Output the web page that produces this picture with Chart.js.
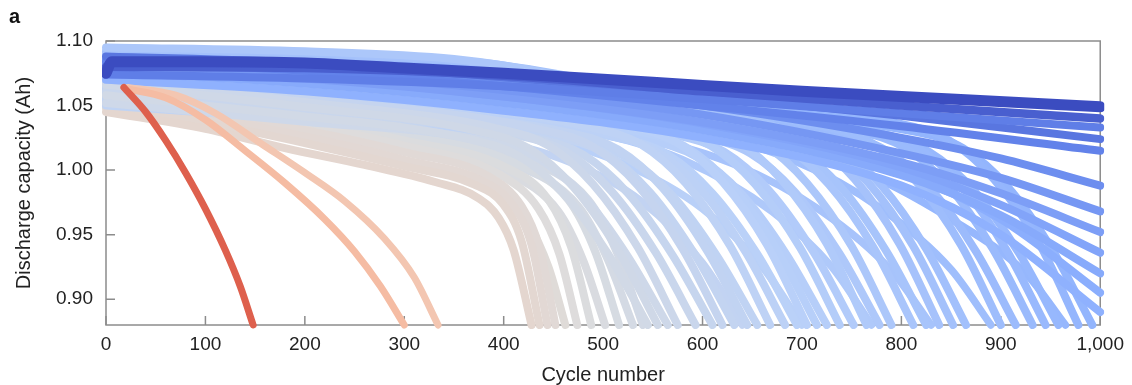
<!DOCTYPE html>
<html>
<head>
<meta charset="utf-8">
<script src="https://cdn.jsdelivr.net/npm/chart.js@4.4.1/dist/chart.umd.min.js"></script>
<style>
  html, body { margin: 0; padding: 0; background: #fff; }
</style>
</head>
<body>
<canvas id="capacity" width="1132" height="385"></canvas>
<script>
// tick values
const xTicks = [0, 100, 200, 300, 400, 500, 600, 700, 800, 900, 1000];
const yTicks = [0.90, 0.95, 1.00, 1.05, 1.10];

// cells that die early: [cycle, capacity (Ah)]
const shortLife = [148, 300, 335];
const shortCurves = [
  [[18,1.064],[40,1.045],[60,1.023],[80,0.998],[100,0.970],[120,0.938],[135,0.910],[148,0.880]],
  [[20,1.063],[60,1.056],[100,1.039],[140,1.015],[180,0.990],[220,0.962],[250,0.937],[276,0.910],[300,0.880]],
  [[22,1.064],[70,1.058],[110,1.044],[157,1.020],[200,0.998],[240,0.976],[280,0.947],[310,0.917],[334,0.880]]
];

// grey / beige group, knee around 400-500 cycles
const midLife = [428, 436, 444, 452, 462, 474, 488, 502, 516, 530, 540];
const midCurves = [
  [[0,1.045],[100,1.032],[180,1.017],[260,1.004],[330,0.991],[375,0.978],[395,0.963],[410,0.938],[428,0.880]],
  [[0,1.050],[100,1.037],[200,1.021],[300,1.003],[370,0.989],[400,0.973],[418,0.945],[436,0.880]],
  [[0,1.053],[100,1.041],[200,1.026],[300,1.008],[380,0.991],[410,0.972],[428,0.942],[444,0.880]],
  [[0,1.056],[100,1.044],[200,1.031],[300,1.014],[385,0.995],[418,0.972],[436,0.940],[452,0.880]],
  [[0,1.048],[100,1.037],[200,1.023],[300,1.006],[390,0.984],[425,0.958],[445,0.925],[462,0.880]],
  [[0,1.057],[100,1.047],[200,1.035],[300,1.019],[395,0.997],[435,0.970],[456,0.935],[474,0.880]],
  [[0,1.059],[100,1.049],[200,1.038],[300,1.023],[400,1.003],[445,0.977],[468,0.940],[488,0.880]],
  [[0,1.054],[100,1.045],[200,1.033],[300,1.019],[400,0.999],[455,0.968],[480,0.930],[502,0.880]],
  [[0,1.061],[100,1.051],[200,1.041],[300,1.027],[400,1.009],[465,0.977],[492,0.937],[516,0.880]],
  [[0,1.058],[100,1.049],[200,1.038],[300,1.025],[400,1.007],[475,0.972],[504,0.932],[530,0.880]],
  [[0,1.063],[100,1.054],[200,1.044],[300,1.031],[400,1.013],[485,0.977],[514,0.936],[540,0.880]]
];

// blue fan, end of life between 545 and 1,000 cycles
const fanLife = [545, 555, 565, 575, 593, 610, 620, 632, 645, 655, 668, 683, 695, 705, 715, 725, 738,
                 752, 765, 778, 790, 812, 825, 838, 852, 865, 900, 915, 932, 945, 958, 978, 992];
const fanCurves = [
  [[0,1.058],[182,1.043],[365,1.024],[415,1.011],[460,0.982],[505,0.935],[545,0.880]],
  [[0,1.066],[187,1.050],[375,1.030],[425,1.017],[470,0.987],[515,0.938],[555,0.880]],
  [[0,1.052],[192,1.038],[385,1.022],[435,1.009],[480,0.980],[525,0.933],[565,0.880]],
  [[0,1.070],[197,1.053],[395,1.032],[445,1.019],[490,0.989],[535,0.940],[575,0.880]],
  [[0,1.061],[206,1.046],[413,1.027],[463,1.014],[508,0.984],[553,0.936],[593,0.880]],
  [[0,1.060],[215,1.044],[430,1.025],[480,1.012],[525,0.982],[570,0.934],[610,0.880]],
  [[0,1.073],[220,1.054],[440,1.031],[490,1.018],[535,0.988],[580,0.939],[620,0.880]],
  [[0,1.055],[226,1.042],[452,1.026],[502,1.013],[547,0.983],[592,0.935],[632,0.880]],
  [[0,1.064],[232,1.048],[465,1.029],[515,1.016],[560,0.986],[605,0.937],[645,0.880]],
  [[0,1.050],[237,1.037],[475,1.022],[525,1.009],[570,0.980],[615,0.933],[655,0.880]],
  [[0,1.076],[244,1.057],[488,1.033],[538,1.020],[583,0.990],[628,0.941],[668,0.880]],
  [[0,1.067],[251,1.049],[503,1.028],[553,1.015],[598,0.985],[643,0.937],[683,0.880]],
  [[0,1.058],[257,1.043],[515,1.025],[565,1.012],[610,0.982],[655,0.935],[695,0.880]],
  [[0,1.079],[262,1.059],[525,1.034],[575,1.021],[620,0.991],[665,0.942],[705,0.880]],
  [[0,1.069],[267,1.051],[535,1.030],[585,1.017],[630,0.987],[675,0.938],[715,0.880]],
  [[0,1.054],[272,1.040],[545,1.023],[595,1.010],[640,0.981],[685,0.934],[725,0.880]],
  [[0,1.072],[279,1.054],[558,1.032],[608,1.019],[653,0.989],[698,0.940],[738,0.880]],
  [[0,1.063],[286,1.047],[572,1.027],[622,1.014],[667,0.984],[712,0.936],[752,0.880]],
  [[0,1.080],[292,1.060],[585,1.035],[635,1.022],[680,0.992],[725,0.943],[765,0.880]],
  [[0,1.060],[299,1.045],[598,1.026],[648,1.013],[693,0.983],[738,0.935],[778,0.880]],
  [[0,1.095],[200,1.092],[350,1.086],[450,1.074],[530,1.058],[610,1.036],[660,1.021],[705,0.990],[750,0.941],[790,0.880]],
  [[0,1.074],[316,1.055],[632,1.032],[682,1.019],[727,0.989],[772,0.940],[812,0.880]],
  [[0,1.066],[322,1.049],[645,1.029],[695,1.016],[740,0.986],[785,0.937],[825,0.880]],
  [[0,1.082],[329,1.061],[658,1.036],[708,1.023],[753,0.993],[798,0.943],[838,0.880]],
  [[0,1.092],[220,1.089],[380,1.083],[500,1.068],[600,1.052],[672,1.034],[722,1.020],[767,0.990],[812,0.941],[852,0.880]],
  [[0,1.070],[342,1.052],[685,1.031],[735,1.018],[780,0.988],[825,0.939],[865,0.880]],
  [[0,1.078],[360,1.058],[720,1.034],[770,1.021],[815,0.991],[860,0.942],[900,0.880]],
  [[0,1.065],[367,1.048],[735,1.028],[785,1.015],[830,0.985],[875,0.937],[915,0.880]],
  [[0,1.090],[230,1.087],[400,1.079],[540,1.063],[660,1.047],[752,1.031],[802,1.018],[847,0.988],[892,0.939],[932,0.880]],
  [[0,1.071],[382,1.053],[765,1.031],[815,1.018],[860,0.988],[905,0.939],[945,0.880]],
  [[0,1.062],[389,1.046],[778,1.027],[828,1.014],[873,0.984],[918,0.936],[958,0.880]],
  [[0,1.084],[399,1.062],[798,1.036],[848,1.023],[893,0.993],[938,0.944],[978,0.880]],
  [[0,1.068],[406,1.051],[812,1.030],[862,1.017],[907,0.987],[952,0.938],[992,0.880]]
];

// slower-fading cells that cross the fan at a shallower angle
const slowLife = [640, 700, 770, 830, 890, 965];
const slowCurves = [
  [[0,1.057],[220,1.043],[380,1.025],[470,1.005],[540,0.975],[600,0.928],[640,0.880]],
  [[0,1.064],[250,1.048],[420,1.028],[520,1.005],[600,0.970],[660,0.925],[700,0.880]],
  [[0,1.071],[280,1.054],[470,1.033],[580,1.008],[670,0.968],[730,0.925],[770,0.880]],
  [[0,1.066],[300,1.050],[510,1.030],[630,1.005],[720,0.968],[790,0.922],[830,0.880]],
  [[0,1.075],[330,1.058],[560,1.036],[690,1.008],[780,0.970],[850,0.923],[890,0.880]],
  [[0,1.069],[360,1.052],[600,1.031],[750,1.002],[850,0.962],[925,0.920],[965,0.880]]
];

// cells still alive at 1,000 cycles
const longLife = [2000, 1600, 1700, 1550, 1400, 1300, 1220, 1160, 1110, 1070, 1035];
const longCurves = [
  [[0,1.080],[200,1.079],[400,1.073],[600,1.061],[800,1.050],[1000,1.040]],
  [[0,1.074],[200,1.071],[400,1.065],[600,1.055],[800,1.044],[1000,1.033]],
  [[0,1.088],[200,1.083],[400,1.072],[600,1.058],[800,1.042],[1000,1.024]],
  [[0,1.084],[200,1.077],[400,1.065],[600,1.050],[800,1.034],[1000,1.015]],
  [[0,1.086],[200,1.079],[400,1.067],[600,1.050],[800,1.025],[900,1.009],[1000,0.988]],
  [[0,1.083],[200,1.075],[400,1.062],[600,1.043],[800,1.013],[900,0.994],[1000,0.968]],
  [[0,1.079],[200,1.071],[400,1.057],[600,1.037],[800,1.006],[900,0.982],[1000,0.952]],
  [[0,1.081],[200,1.072],[400,1.057],[600,1.036],[800,1.002],[900,0.973],[1000,0.936]],
  [[0,1.076],[200,1.067],[400,1.052],[600,1.031],[800,0.996],[900,0.965],[1000,0.920]],
  [[0,1.085],[200,1.075],[400,1.059],[600,1.036],[800,0.998],[900,0.962],[1000,0.905]],
  [[0,1.070],[200,1.061],[400,1.046],[600,1.025],[800,0.988],[900,0.950],[1000,0.890]]
];

// longest-lived cell (dark blue band on top)
const topLife = 2300;
const topCurve = [[0,1.075],[6,1.084],[100,1.084],[200,1.083],[300,1.079],[400,1.075],[550,1.068],[700,1.061],[850,1.055],[1000,1.049]];

// coolwarm colour scale, blue = long life, red = short life
const coolwarm = [[59,76,192],[98,130,234],[141,176,254],[184,208,249],[221,221,221],
                  [245,196,173],[244,154,123],[222,96,77],[180,4,38]];
function lifeColour(life) {
  let t = (Math.log(2300) - Math.log(life)) / (Math.log(2300) - Math.log(100));
  t = Math.min(1, Math.max(0, t));
  const f = t * 8, i = Math.min(7, Math.floor(f)), w = f - i;
  const c = coolwarm[i].map((v, k) => Math.round(v + (coolwarm[i + 1][k] - v) * w));
  return `rgb(${c.join(',')})`;
}

function cell(points, life, width, order) {
  return {
    data: points.map(p => ({x: p[0], y: p[1]})),
    borderColor: lifeColour(life),
    borderWidth: width,
    borderCapStyle: 'round',
    borderJoinStyle: 'round',
    cubicInterpolationMode: 'monotone',
    pointRadius: 0,
    fill: false,
    clip: {left: 4, top: 2, right: 4, bottom: 4},
    order: order
  };
}

// lower order is drawn on top
const datasets = [];
datasets.push(cell(topCurve, topLife, 11, 0));
shortCurves.forEach((c, i) => datasets.push(cell(c, shortLife[i], 7, 1)));
longCurves.forEach((c, i) => datasets.push(cell(c, longLife[i], i < 1 ? 8.5 : 8, 4)));
fanCurves.forEach((c, i) => datasets.push(cell(c, fanLife[i], 8, 5)));
slowCurves.forEach((c, i) => datasets.push(cell(c, slowLife[i], 7.5, 6)));
midCurves.forEach((c, i) => datasets.push(cell(c, midLife[i], 8, 7)));

const fontFamily = '"Liberation Sans", Arial, Helvetica, sans-serif';
Chart.defaults.font.family = fontFamily;

// box round the plot and inward tick marks
const frame = {
  id: 'frame',
  beforeDatasetsDraw(chart) {
    const {ctx, chartArea: a, scales: {x, y}} = chart;
    ctx.save();
    ctx.strokeStyle = '#8c8c8c';
    ctx.lineWidth = 1.5;
    ctx.strokeRect(a.left, a.top, a.right - a.left, a.bottom - a.top);
    ctx.beginPath();
    xTicks.forEach(v => {
      const px = x.getPixelForValue(v);
      ctx.moveTo(px, a.bottom);
      ctx.lineTo(px, a.bottom - 9);
    });
    yTicks.forEach(v => {
      const py = y.getPixelForValue(v);
      ctx.moveTo(a.left, py);
      ctx.lineTo(a.left + 9, py);
    });
    ctx.stroke();
    ctx.restore();
  },
  afterDraw(chart) {
    const ctx = chart.ctx;
    ctx.save();
    ctx.fillStyle = '#111';
    ctx.font = 'bold 20px ' + fontFamily;
    ctx.textBaseline = 'alphabetic';
    ctx.fillText('a', 9, 23);
    ctx.restore();
  }
};

new Chart(document.getElementById('capacity'), {
  type: 'line',
  data: {datasets: datasets},
  options: {
    responsive: false,
    animation: false,
    layout: {padding: {top: 41, right: 28, left: 0, bottom: 0}},
    plugins: {legend: {display: false}, tooltip: {enabled: false}},
    scales: {
      x: {
        type: 'linear',
        min: 0, max: 1000,
        afterBuildTicks: s => { s.ticks = xTicks.map(v => ({value: v})); },
        afterFit: s => { s.height = 60; },
        ticks: {
          callback: v => v.toLocaleString('en-US'),
          font: {size: 19}, color: '#222', padding: 8, maxRotation: 0, autoSkip: false
        },
        grid: {display: false, drawTicks: false},
        border: {display: false},
        title: {display: true, text: 'Cycle number', font: {size: 20, lineHeight: 1}, color: '#222', padding: {top: 0, bottom: 0}}
      },
      y: {
        min: 0.88, max: 1.10,
        afterBuildTicks: s => { s.ticks = yTicks.map(v => ({value: v})); },
        afterFit: s => { s.width = 106; },
        ticks: {
          callback: v => v.toFixed(2),
          font: {size: 19}, color: '#222', padding: 13
        },
        grid: {display: false, drawTicks: false},
        border: {display: false},
        title: {display: true, text: 'Discharge capacity (Ah)', font: {size: 20}, color: '#222', padding: {top: 12, bottom: 0}}
      }
    }
  },
  plugins: [frame]
});
</script>
</body>
</html>
